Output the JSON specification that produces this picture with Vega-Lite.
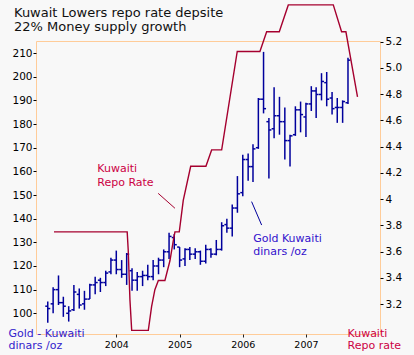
{
  "$schema": "https://vega.github.io/schema/vega-lite/v6.json",
  "width": 344,
  "height": 293,
  "autosize": {"type": "none"},
  "padding": {"left": 36, "top": 41, "right": 34, "bottom": 21},
  "background": "#f8f8f8",
  "config": {
    "view": {"stroke": "#ffcc99", "strokeWidth": 1},
    "font": "DejaVu Sans",
    "axis": {"grid": false, "domain": false, "labelOverlap": false, "labelFont": "DejaVu Sans", "titleFont": "DejaVu Sans", "titleFontWeight": "normal"}
  },
  "title": {
    "text": ["Kuwait Lowers repo rate depsite", "22% Money supply growth"],
    "anchor": "start",
    "frame": "group",
    "dx": -22,
    "dy": 39,
    "offset": 7,
    "fontSize": 13,
    "fontWeight": "normal",
    "color": "#111111",
    "font": "DejaVu Sans",
    "lineHeight": 14
  },
  "datasets": {
    "gold": [
      {"d": "2002-12-01", "o": 103, "h": 105, "l": 96, "c": 102},
      {"d": "2003-01-01", "o": 104, "h": 111, "l": 100, "c": 110},
      {"d": "2003-02-01", "o": 110, "h": 116, "l": 103.5, "c": 104.5},
      {"d": "2003-03-01", "o": 104.5, "h": 107, "l": 98.5, "c": 103},
      {"d": "2003-04-01", "o": 100, "h": 103, "l": 96.5, "c": 101},
      {"d": "2003-05-01", "o": 101.5, "h": 112, "l": 101, "c": 109},
      {"d": "2003-06-01", "o": 108, "h": 110.5, "l": 102, "c": 103.5},
      {"d": "2003-07-01", "o": 104, "h": 109.5, "l": 101.5, "c": 106},
      {"d": "2003-08-01", "o": 106, "h": 112.5, "l": 106, "c": 112},
      {"d": "2003-09-01", "o": 112, "h": 115.5, "l": 108, "c": 113},
      {"d": "2003-10-01", "o": 114, "h": 115, "l": 109, "c": 113},
      {"d": "2003-11-01", "o": 113, "h": 118, "l": 111.5, "c": 117},
      {"d": "2003-12-01", "o": 117.5, "h": 123.5, "l": 116.5, "c": 122.5},
      {"d": "2004-01-01", "o": 122.5, "h": 126.5, "l": 116.5, "c": 118.5},
      {"d": "2004-02-01", "o": 118.5, "h": 122.5, "l": 115, "c": 116.5},
      {"d": "2004-03-01", "o": 116.5, "h": 125.5, "l": 112, "c": 125},
      {"d": "2004-04-01", "o": 118, "h": 119, "l": 109.5, "c": 114},
      {"d": "2004-05-01", "o": 114, "h": 117.5, "l": 109.5, "c": 115.5},
      {"d": "2004-06-01", "o": 115.5, "h": 118, "l": 111.5, "c": 116},
      {"d": "2004-07-01", "o": 116, "h": 120.5, "l": 114, "c": 115.5},
      {"d": "2004-08-01", "o": 115.5, "h": 122.5, "l": 114, "c": 120},
      {"d": "2004-09-01", "o": 120, "h": 123.5, "l": 116.5, "c": 122.5},
      {"d": "2004-10-01", "o": 122.5, "h": 127, "l": 119.5, "c": 126},
      {"d": "2004-11-01", "o": 126, "h": 134, "l": 123, "c": 132.5},
      {"d": "2004-12-01", "o": 132, "h": 133.5, "l": 127, "c": 129},
      {"d": "2005-01-01", "o": 128, "h": 128, "l": 119.5, "c": 122.5},
      {"d": "2005-02-01", "o": 123, "h": 127.5, "l": 120, "c": 127},
      {"d": "2005-03-01", "o": 127, "h": 128, "l": 122.5, "c": 125},
      {"d": "2005-04-01", "o": 125, "h": 127.5, "l": 123, "c": 126},
      {"d": "2005-05-01", "o": 126, "h": 126.5, "l": 120.5, "c": 122},
      {"d": "2005-06-01", "o": 122, "h": 129, "l": 121, "c": 127},
      {"d": "2005-07-01", "o": 127, "h": 127.5, "l": 123.5, "c": 125},
      {"d": "2005-08-01", "o": 125, "h": 131, "l": 124.5, "c": 127},
      {"d": "2005-09-01", "o": 127, "h": 138.5, "l": 126.5, "c": 137},
      {"d": "2005-10-01", "o": 137.5, "h": 140, "l": 134, "c": 136},
      {"d": "2005-11-01", "o": 136, "h": 146, "l": 132.5, "c": 144.5},
      {"d": "2005-12-01", "o": 144.5, "h": 158, "l": 142.5, "c": 150.5},
      {"d": "2006-01-01", "o": 151, "h": 167, "l": 149.5, "c": 165},
      {"d": "2006-02-01", "o": 165, "h": 167.5, "l": 156, "c": 162},
      {"d": "2006-03-01", "o": 162, "h": 171.5, "l": 155.5, "c": 169.5},
      {"d": "2006-04-01", "o": 170, "h": 191, "l": 169.5, "c": 190.5},
      {"d": "2006-05-01", "o": 190.5, "h": 210.5, "l": 184.5, "c": 186.5},
      {"d": "2006-06-01", "o": 181, "h": 182.5, "l": 157, "c": 177.5},
      {"d": "2006-07-01", "o": 178, "h": 195.5, "l": 174, "c": 183.5},
      {"d": "2006-08-01", "o": 183.5, "h": 191.5, "l": 175.5, "c": 181},
      {"d": "2006-09-01", "o": 181, "h": 187, "l": 165, "c": 173},
      {"d": "2006-10-01", "o": 173, "h": 175.5, "l": 162, "c": 175},
      {"d": "2006-11-01", "o": 175.5, "h": 187.5, "l": 175, "c": 186},
      {"d": "2006-12-01", "o": 186, "h": 189.5, "l": 176.5, "c": 184},
      {"d": "2007-01-01", "o": 183, "h": 189, "l": 174.5, "c": 188.5},
      {"d": "2007-02-01", "o": 188.5, "h": 196, "l": 185.5, "c": 194},
      {"d": "2007-03-01", "o": 194, "h": 195.5, "l": 182.5, "c": 192.5},
      {"d": "2007-04-01", "o": 192.5, "h": 201.5, "l": 190, "c": 198},
      {"d": "2007-05-01", "o": 197.5, "h": 202, "l": 187.5, "c": 190.5},
      {"d": "2007-06-01", "o": 191, "h": 193.5, "l": 184, "c": 186.5},
      {"d": "2007-07-01", "o": 187, "h": 191, "l": 180.5, "c": 187},
      {"d": "2007-08-01", "o": 187, "h": 190, "l": 180.5, "c": 189.5},
      {"d": "2007-09-01", "o": 189, "h": 208, "l": 188.5, "c": 207}
    ],
    "repo": [
      {"d": "2003-01-06", "r": 3.75},
      {"d": "2004-03-04", "r": 3.75},
      {"d": "2004-03-10", "r": 3.61},
      {"d": "2004-03-20", "r": 3.23},
      {"d": "2004-03-30", "r": 3.0},
      {"d": "2004-07-04", "r": 3.0},
      {"d": "2004-07-23", "r": 3.18},
      {"d": "2004-08-11", "r": 3.31},
      {"d": "2004-08-31", "r": 3.38},
      {"d": "2004-10-08", "r": 3.38},
      {"d": "2004-11-06", "r": 3.53},
      {"d": "2004-11-25", "r": 3.68},
      {"d": "2004-12-05", "r": 3.75},
      {"d": "2004-12-30", "r": 3.75},
      {"d": "2005-01-22", "r": 3.99},
      {"d": "2005-03-06", "r": 4.25},
      {"d": "2005-06-02", "r": 4.25},
      {"d": "2005-07-05", "r": 4.375},
      {"d": "2005-09-01", "r": 4.375},
      {"d": "2005-11-30", "r": 5.125},
      {"d": "2006-04-10", "r": 5.125},
      {"d": "2006-05-19", "r": 5.275},
      {"d": "2006-07-31", "r": 5.275},
      {"d": "2006-09-21", "r": 5.48},
      {"d": "2007-06-08", "r": 5.48},
      {"d": "2007-07-26", "r": 5.275},
      {"d": "2007-08-20", "r": 5.275},
      {"d": "2007-10-26", "r": 4.78}
    ]
  },
  "layer": [
    {
      "data": {"name": "gold"},
      "layer": [
        {
          "mark": {"type": "rule", "color": "#00009c", "strokeWidth": 1.5, "clip": false},
          "encoding": {
            "x": {
              "field": "d", "type": "temporal",
              "scale": {"domain": ["2002-09-24", "2008-03-04"]},
              "axis": {
                "values": [{"year": 2004, "month": 1, "date": 1}, {"year": 2005, "month": 1, "date": 1}, {"year": 2006, "month": 1, "date": 1}, {"year": 2007, "month": 1, "date": 1}],
                "format": "%Y", "title": null, "tickSize": 3, "tickColor": "#222222",
                "labelColor": "#000000", "labelFontSize": 9.5, "labelPadding": 2
              }
            },
            "y": {
              "field": "l", "type": "quantitative",
              "scale": {"domain": [91.25, 215.1], "nice": false, "zero": false},
              "axis": {
                "orient": "left",
                "values": [100, 110, 120, 130, 140, 150, 160, 170, 180, 190, 200, 210],
                "tickCount": 20,
                "labelOverlap": false,
                "labelBound": false,
                "tickSize": 3, "tickColor": "#000000", "labelColor": "#000000",
                "labelFontSize": 10.5, "labelPadding": 1,
                "title": ["Gold - Kuwaiti", "dinars /oz"],
                "titleAngle": 0, "titleAlign": "left", "titleBaseline": "alphabetic",
                "titleX": -28, "titleY": 295, "titleFontSize": 11, "titleColor": "#3322cc",
                "titleLineHeight": 12.5
              }
            },
            "y2": {"field": "h"}
          }
        },
        {
          "mark": {"type": "rule", "color": "#00009c", "strokeWidth": 1.5, "x2Offset": -2.5},
          "encoding": {
            "x": {"field": "d", "type": "temporal"},
            "x2": {"field": "d"},
            "y": {"field": "o", "type": "quantitative"}
          }
        },
        {
          "mark": {"type": "rule", "color": "#00009c", "strokeWidth": 1.5, "x2Offset": 2.5},
          "encoding": {
            "x": {"field": "d", "type": "temporal"},
            "x2": {"field": "d"},
            "y": {"field": "c", "type": "quantitative"}
          }
        },
        {
          "data": {"values": [{"d": "2003-09-13", "v": 159.7, "t": "Kuwaiti|Repo Rate"}]},
          "mark": {"type": "text", "align": "left", "baseline": "alphabetic", "lineBreak": "|", "lineHeight": 14, "fontSize": 11, "color": "#cc0044", "font": "DejaVu Sans"},
          "encoding": {
            "x": {"field": "d", "type": "temporal"},
            "y": {"field": "v", "type": "quantitative"},
            "text": {"field": "t"}
          }
        },
        {
          "data": {"values": [{"d": "2006-03-02", "v": 130.1, "t": "Gold Kuwaiti|dinars /oz"}]},
          "mark": {"type": "text", "align": "left", "baseline": "alphabetic", "lineBreak": "|", "lineHeight": 13, "fontSize": 11, "color": "#3311cc", "font": "DejaVu Sans"},
          "encoding": {
            "x": {"field": "d", "type": "temporal"},
            "y": {"field": "v", "type": "quantitative"},
            "text": {"field": "t"}
          }
        },
        {
          "data": {"values": [{"d": "2004-08-30", "v": 150.7, "d2": "2004-12-05", "v2": 144.4}]},
          "mark": {"type": "rule", "color": "#a5002f", "strokeWidth": 1},
          "encoding": {
            "x": {"field": "d", "type": "temporal"},
            "x2": {"field": "d2"},
            "y": {"field": "v", "type": "quantitative"},
            "y2": {"field": "v2"}
          }
        },
        {
          "data": {"values": [{"d": "2006-02-21", "v": 147.2, "d2": "2006-04-20", "v2": 137.3}]},
          "mark": {"type": "rule", "color": "#00009c", "strokeWidth": 1},
          "encoding": {
            "x": {"field": "d", "type": "temporal"},
            "x2": {"field": "d2"},
            "y": {"field": "v", "type": "quantitative"},
            "y2": {"field": "v2"}
          }
        }
      ]
    },
    {
      "data": {"name": "repo"},
      "mark": {"type": "line", "color": "#a5002f", "strokeWidth": 1.4, "clip": false},
      "encoding": {
        "x": {"field": "d", "type": "temporal"},
        "y": {
          "field": "r", "type": "quantitative",
          "scale": {"domain": [2.972, 5.205], "nice": false, "zero": false},
          "axis": {
            "orient": "right",
            "values": [3.2, 3.4, 3.6, 3.8, 4.0, 4.2, 4.4, 4.6, 4.8, 5.0, 5.2],
            "tickCount": 20,
            "labelOverlap": false,
            "labelExpr": "datum.value == 4 ? '4' : format(datum.value, '.1f')",
            "tickSize": 3, "tickColor": "#000000", "labelColor": "#000000",
            "labelFontSize": 10.5, "labelPadding": 2,
            "title": ["Kuwaiti", "Repo rate"],
            "titleAngle": 0, "titleAlign": "left", "titleBaseline": "alphabetic",
            "titleX": -33, "titleY": 295, "titleFontSize": 11, "titleColor": "#cc0044",
            "titleLineHeight": 12.5
          }
        }
      }
    }
  ],
  "resolve": {"scale": {"y": "independent"}, "axis": {"y": "independent"}}
}
